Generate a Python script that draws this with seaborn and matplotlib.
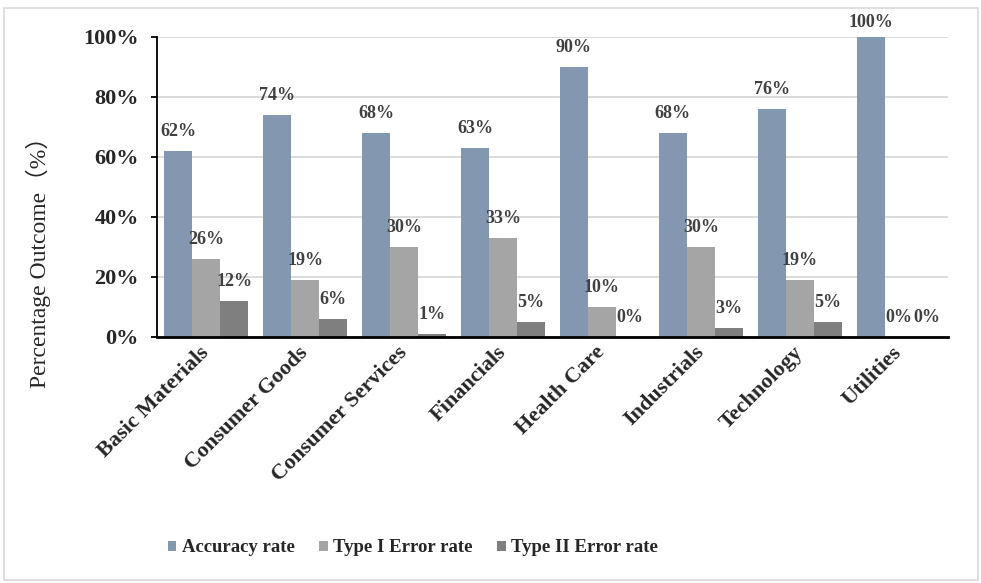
import matplotlib
matplotlib.use("Agg")
import matplotlib.pyplot as plt
from matplotlib.patches import Rectangle, Patch
from matplotlib.ticker import FuncFormatter
import pandas as pd
import seaborn as sns

# Sector-level classification outcomes (%)
sectors = ["Basic Materials", "Consumer Goods", "Consumer Services", "Financials",
           "Health Care", "Industrials", "Technology", "Utilities"]
accuracy = [62, 74, 68, 63, 90, 68, 76, 100]
type1_error = [26, 19, 30, 33, 10, 30, 19, 0]
type2_error = [12, 6, 1, 5, 0, 3, 5, 0]
metrics = ["Accuracy rate", "Type I Error rate", "Type II Error rate"]
colors = ["#8497B0", "#A5A5A5", "#7F7F7F"]
y_ticks = [0, 20, 40, 60, 80, 100]

df = pd.DataFrame({
    "Sector": sectors * 3,
    "Metric": [m for m in metrics for _ in sectors],
    "Value": accuracy + type1_error + type2_error,
})

sns.set_theme(style="white")
serif = ["Liberation Serif", "DejaVu Serif"]
plt.rcParams["font.family"] = serif

fig = plt.figure(figsize=(9.81, 5.83), dpi=100)
ax = fig.add_axes([157 / 981, 1 - 337 / 583, 791 / 981, 300 / 583])

sns.barplot(data=df, x="Sector", y="Value", hue="Metric", order=sectors,
            hue_order=metrics, palette=colors, width=0.85, gap=0,
            saturation=1, linewidth=0, legend=False, ax=ax)

# value labels above each bar (the full-height bar keeps its label closer)
for cont in ax.containers:
    vals = [b.get_height() for b in cont]
    texts = ax.bar_label(cont, labels=[f"{v:.0f}%" for v in vals], padding=8,
                         fontsize=13, fontweight="bold", color="#404040")
    for t, v in zip(texts, vals):
        if v >= 100:
            t.set_position((0, 4))

ax.set_ylim(0, 100)
ax.set_xlim(-0.5, len(sectors) - 0.5)
ax.set_yticks(y_ticks)
ax.yaxis.set_major_formatter(FuncFormatter(lambda v, p: f"{v:.0f}%"))
ax.yaxis.grid(True, color="#D9D9D9", linewidth=1.3)
ax.set_axisbelow(True)

for s in ["top", "right"]:
    ax.spines[s].set_visible(False)
ax.spines["left"].set_color("black")
ax.spines["left"].set_linewidth(1.3)
ax.spines["bottom"].set_color("black")
ax.spines["bottom"].set_linewidth(2)

ax.tick_params(axis="y", direction="out", length=4, width=1.3, color="black",
               pad=9, labelsize=16, left=True)
ax.tick_params(axis="x", length=0, pad=9, labelsize=16)
for lab in ax.get_yticklabels():
    lab.set_fontweight("bold")
for lab in ax.get_xticklabels():
    lab.set_fontweight("bold")
    lab.set_rotation(45)
    lab.set_ha("right")
    lab.set_va("center")
    lab.set_rotation_mode("anchor")

ax.set_xlabel("")
ax.set_ylabel("")
fig.text(38 / 981, 1 - 257 / 583, "Percentage Outcome（%）", rotation=90,
         ha="center", va="center", fontsize=17,
         family=["Liberation Serif", "Noto Sans CJK SC"])

handles = [Patch(facecolor=c, edgecolor="none") for c in colors]
fig.legend(handles, metrics, loc="center left",
           bbox_to_anchor=(168 / 981, 1 - 548 / 583), ncol=3, frameon=False,
           prop={"family": serif, "weight": "bold", "size": 13.5},
           handlelength=0.45, handleheight=0.45, handletextpad=0.3,
           columnspacing=1.3, borderaxespad=0, borderpad=0)

fig.patches.append(Rectangle((4 / 981, 3 / 583), 974 / 981, 572 / 583,
                             transform=fig.transFigure, fill=False,
                             edgecolor="#D9D9D9", linewidth=1.2))

fig.savefig("out.png", dpi=100)
